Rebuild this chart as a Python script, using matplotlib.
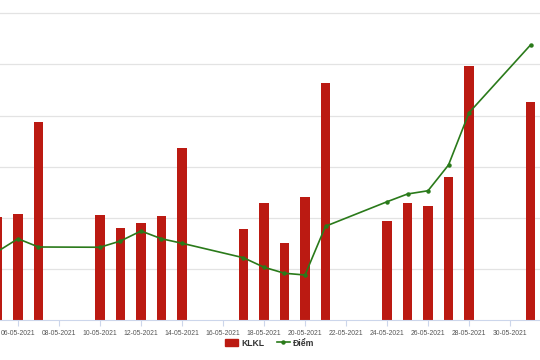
import datetime as dt

import matplotlib
matplotlib.use("Agg")
import matplotlib.dates as mdates
import matplotlib.pyplot as plt
from matplotlib import font_manager
from matplotlib.lines import Line2D
from matplotlib.patches import Patch

# trading days, May 2021
days = [5, 6, 7, 10, 11, 12, 13, 14, 17, 18, 19, 20, 21, 24, 25, 26, 27, 28, 31]
klkl = [404, 416, 774, 412, 360, 380, 408, 672, 358, 458, 300, 480, 926,
        386, 458, 446, 558, 994, 854]
diem = [1245.4, 1250.5, 1247.2, 1247.1, 1249.6, 1253.6, 1250.5, 1248.7, 1242.9,
        1239.1, 1236.7, 1236.0, 1255.5, 1265.3, 1268.4, 1269.7, 1280.0, 1300.9, 1328.0]

dates = [dt.datetime(2021, 5, d) for d in days]

BAR = "#bb1a12"
LINE = "#2a7a1a"

# narrow font if we have it, otherwise plain Liberation Sans a bit smaller
names = {f.name for f in font_manager.fontManager.ttflist}
if "Liberation Sans Narrow" in names:
    plt.rcParams["font.family"] = ["Liberation Sans Narrow", "DejaVu Sans"]
    tick_size, leg_size = 5.8, 6.8
else:
    plt.rcParams["font.family"] = ["Liberation Sans", "DejaVu Sans"]
    tick_size, leg_size = 4.9, 6.2

fig = plt.figure(figsize=(5.4, 3.6), dpi=100)
ax = fig.add_axes([0, 40 / 360, 1, 320 / 360])

ax.bar(dates, klkl, width=0.44, color=BAR, zorder=2)
ax.set_ylim(0, 320 / 51.1 * 200)
ax.set_yticks(range(200, 1400, 200))
ax.yaxis.grid(True, color="#e3e3e3", lw=0.9, zorder=0)
ax.tick_params(axis="y", length=0, labelleft=False)

ax.set_xlim(dt.datetime(2021, 5, 5, 2, 56), dt.datetime(2021, 5, 31, 11, 7))
ax.xaxis.set_major_locator(mdates.DayLocator(bymonthday=range(6, 32, 2)))
ax.xaxis.set_major_formatter(mdates.DateFormatter("%d-%m-%Y"))
ax.tick_params(axis="x", length=4.5, width=0.8, color="#ccd6eb",
               labelsize=tick_size, labelcolor="#555555", pad=2.5)

for s in ["top", "left", "right"]:
    ax.spines[s].set_visible(False)
ax.spines["bottom"].set_color("#ccd6eb")

ax2 = ax.twinx()
ax2.plot(dates, diem, color=LINE, lw=1.2, marker="o", ms=2.2, zorder=3)
ax2.set_ylim(1218, 1346)
ax2.axis("off")

handles = [Patch(color=BAR, label="KLKL"),
           Line2D([], [], color=LINE, lw=1.2, marker="o", ms=2.2, label="Điểm")]
leg = fig.legend(handles=handles, loc="center", bbox_to_anchor=(0.5, 1 - 343 / 360),
                 ncol=2, frameon=False, handlelength=1.5, handleheight=0.9,
                 columnspacing=1.4, handletextpad=0.4,
                 prop={"size": leg_size, "weight": "bold"})
for t in leg.get_texts():
    t.set_color("#333333")

fig.savefig("out.png", dpi=100)
